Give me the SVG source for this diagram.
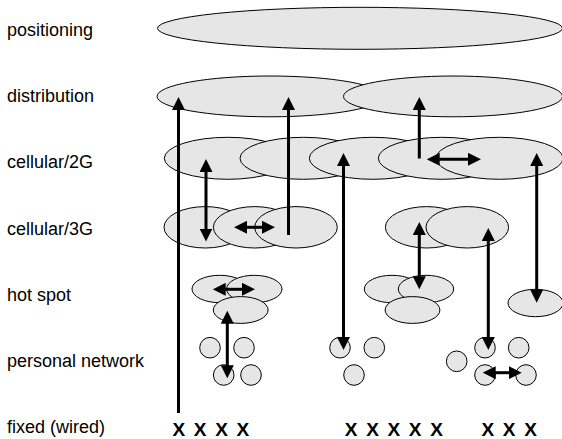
<svg xmlns="http://www.w3.org/2000/svg" width="562" height="439" viewBox="0 0 562 439">
<style>
.n{fill:#e6e6e6;stroke:#000;stroke-width:1}
.lbl{font-family:"Liberation Sans",Arial,sans-serif;font-size:18px;fill:#000}
.xx{font-family:"Liberation Sans",Arial,sans-serif;font-size:19px;font-weight:bold;letter-spacing:1.7px;fill:#000}
.c{stroke:#000;stroke-width:3;fill:none}
.e{marker-end:url(#ah)}
.s{marker-start:url(#ahs)}
</style>
<defs>
<marker id="ah" viewBox="0 0 13 13" markerWidth="13" markerHeight="13" refX="6.5" refY="6.5" markerUnits="userSpaceOnUse" orient="auto"><path d="M0,0 L13,6.5 L0,13 z" fill="#000"/></marker>
<marker id="ahs" viewBox="0 0 13 13" markerWidth="13" markerHeight="13" refX="6.5" refY="6.5" markerUnits="userSpaceOnUse" orient="auto"><path d="M13,0 L0,6.5 L13,13 z" fill="#000"/></marker>
</defs>
<g id="labels">
<text class="lbl" x="7" y="36">positioning</text>
<text class="lbl" x="7" y="102.3">distribution</text>
<text class="lbl" x="7" y="168.4">cellular/2G</text>
<text class="lbl" x="7" y="234.6">cellular/3G</text>
<text class="lbl" x="7" y="300.8">hot spot</text>
<text class="lbl" x="7" y="367">personal network</text>
<text class="lbl" x="7" y="433.2">fixed (wired)</text>
</g>
<g id="positioning"><ellipse class="n" cx="360" cy="28.3" rx="202.5" ry="21"/></g>
<g id="distribution">
<ellipse class="n" cx="270" cy="96.4" rx="113" ry="20.4"/>
<ellipse class="n" cx="453" cy="96.4" rx="109.5" ry="20.4"/>
</g>
<g id="cellular2g">
<ellipse class="n" cx="227.8" cy="158.3" rx="63.5" ry="21"/>
<ellipse class="n" cx="303.5" cy="158.3" rx="63.5" ry="21"/>
<ellipse class="n" cx="372.8" cy="158.3" rx="63.5" ry="21"/>
<ellipse class="n" cx="441.8" cy="158.3" rx="63.5" ry="21"/>
<ellipse class="n" cx="499.5" cy="158.3" rx="63.5" ry="21"/>
</g>
<g id="cellular3g">
<ellipse class="n" cx="205.3" cy="227.3" rx="41.3" ry="20.7"/>
<ellipse class="n" cx="254.7" cy="227.3" rx="41.3" ry="20.7"/>
<ellipse class="n" cx="296" cy="227.3" rx="41.3" ry="20.7"/>
<ellipse class="n" cx="426.7" cy="227.3" rx="41.3" ry="20.7"/>
<ellipse class="n" cx="467.3" cy="227.3" rx="41.3" ry="20.7"/>
</g>
<g id="hotspot">
<ellipse class="n" cx="219.7" cy="289" rx="27.7" ry="13.7"/>
<ellipse class="n" cx="254.3" cy="289" rx="27.7" ry="13.7"/>
<ellipse class="n" cx="240.7" cy="310" rx="27.4" ry="13.4"/>
<ellipse class="n" cx="392" cy="289" rx="27.7" ry="13.7"/>
<ellipse class="n" cx="426" cy="289" rx="27.7" ry="13.7"/>
<ellipse class="n" cx="412.5" cy="310" rx="27.4" ry="13.4"/>
<ellipse class="n" cx="535.5" cy="303" rx="27.5" ry="13.7"/>
</g>
<g id="personal">
<circle class="n" cx="210" cy="347.7" r="10.3"/>
<circle class="n" cx="244" cy="347.7" r="10.3"/>
<circle class="n" cx="223.7" cy="375" r="10.3"/>
<circle class="n" cx="251" cy="375" r="10.3"/>
<circle class="n" cx="340" cy="347.7" r="10.3"/>
<circle class="n" cx="374.3" cy="347.7" r="10.3"/>
<circle class="n" cx="354" cy="375" r="10.3"/>
<circle class="n" cx="456.7" cy="361.3" r="10.3"/>
<circle class="n" cx="485" cy="347.7" r="10.3"/>
<circle class="n" cx="518.7" cy="347.7" r="10.3"/>
<circle class="n" cx="485" cy="375" r="10.3"/>
<circle class="n" cx="526" cy="375" r="10.3"/>
</g>
<g id="fixed">
<text class="xx" x="172.5" y="436">X X X X</text>
<text class="xx" x="344.8" y="436">X X X X X</text>
<text class="xx" x="481.5" y="436">X X X</text>
</g>
<g id="connectors">
<line class="c e" x1="178.5" y1="413" x2="178.5" y2="103.5"/>
<line class="c e" x1="288.5" y1="235" x2="288.5" y2="103.5"/>
<line class="c e" x1="419.3" y1="158.5" x2="419.3" y2="103.5"/>
<line class="c s e" x1="433.2" y1="159.3" x2="474.5" y2="159.3"/>
<line class="c s e" x1="206" y1="165.5" x2="206" y2="235"/>
<line class="c s e" x1="240.5" y1="227.3" x2="268.5" y2="227.3"/>
<line class="c s e" x1="343.5" y1="159.5" x2="343.5" y2="343.5"/>
<line class="c s e" x1="536.7" y1="159.5" x2="536.7" y2="296.2"/>
<line class="c s e" x1="419.3" y1="228.5" x2="419.3" y2="282.8"/>
<line class="c s e" x1="488.3" y1="234.5" x2="488.3" y2="343.5"/>
<line class="c s e" x1="219.2" y1="289.3" x2="248.5" y2="289.3"/>
<line class="c s e" x1="227.3" y1="317.2" x2="227.3" y2="371.8"/>
<line class="c s e" x1="489.2" y1="372.7" x2="515.2" y2="372.7"/>
</g>
</svg>
